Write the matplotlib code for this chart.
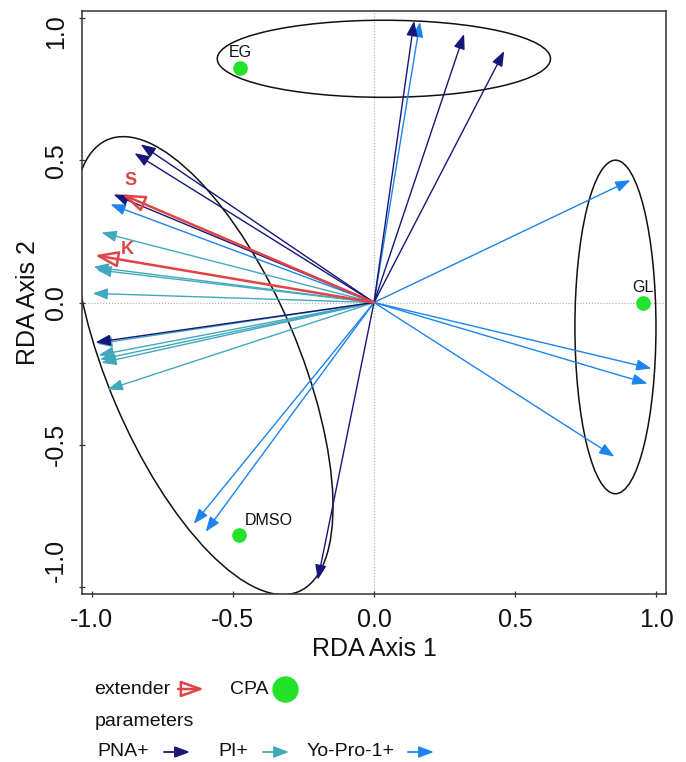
import numpy as np
import matplotlib.pyplot as plt
import matplotlib.transforms as mtransforms
from matplotlib.patches import Ellipse, FancyArrowPatch

plt.rcParams['font.family'] = ['Liberation Sans', 'DejaVu Sans']

# arrow tips on (RDA axis 1, RDA axis 2)
pna_x = [0.142, 0.319, 0.461, -0.826, -0.848, -0.922, -0.986, -0.199]
pna_y = [0.990, 0.944, 0.884, 0.556, 0.525, 0.380, -0.140, -0.975]
pi_x = [-0.965, -0.993, -0.983, -0.996, -0.980, -0.975, -0.970, -0.965, -0.943]
pi_y = [0.246, 0.125, 0.115, 0.032, -0.145, -0.185, -0.200, -0.212, -0.306]
yo_x = [0.163, 0.908, 0.982, 0.968, 0.851, -0.933, -0.638, -0.596]
yo_y = [0.986, 0.430, -0.232, -0.285, -0.542, 0.345, -0.778, -0.806]

ext_names = ['S', 'K']
ext_x = [-0.892, -0.988]
ext_y = [0.380, 0.166]

cpa_names = ['EG', 'DMSO', 'GL']
cpa_x = [-0.474, -0.478, 0.952]
cpa_y = [0.824, -0.817, 0.000]

# group ellipses (EG, DMSO, GL)
ell_x = [0.035, -0.605, 0.855]
ell_y = [0.857, -0.222, -0.086]
ell_w = [1.180, 1.727, 0.287]
ell_h = [0.271, 0.676, 1.173]
ell_ang = [0.0, -66.9, 0.0]

ticks = [-1.0, -0.5, 0.0, 0.5, 1.0]
tick_labels = ['-1.0', '-0.5', '0.0', '0.5', '1.0']

c_pna = '#161678'
c_pi = '#41a8bd'
c_yo = '#1c84ec'
c_ext = '#e04444'
c_cpa = '#22e32a'

W, H = 686, 762
fig = plt.figure(figsize=(W / 100, H / 100), dpi=100)
ax = fig.add_axes([82 / W, 1 - 594 / H, 584 / W, 583 / H])

ax.axhline(0, color='#aaaaaa', lw=0.8, ls=':', zorder=0)
ax.axvline(0, color='#aaaaaa', lw=0.8, ls=':', zorder=0)

for i in range(len(ell_x)):
    ax.add_patch(Ellipse((ell_x[i], ell_y[i]), ell_w[i], ell_h[i], angle=ell_ang[i],
                         fill=False, ec='#111111', lw=1.1))

head = '-|>,head_length=0.45,head_width=0.17'

def arrows(xs, ys, col):
    for x, y in zip(xs, ys):
        ax.annotate('', xy=(x, y), xytext=(0, 0),
                    arrowprops=dict(arrowstyle=head, color=col, lw=1.0,
                                    mutation_scale=20, shrinkA=0, shrinkB=0))

arrows(pi_x, pi_y, c_pi)
arrows(yo_x, yo_y, c_yo)
arrows(pna_x, pna_y, c_pna)

ext_off = [(6, 10), (23, 4)]
for i in range(len(ext_x)):
    ax.annotate('', xy=(ext_x[i], ext_y[i]), xytext=(0, 0),
                arrowprops=dict(arrowstyle='-|>,head_length=0.7,head_width=0.25',
                                ec=c_ext, fc='none', lw=1.8,
                                mutation_scale=20, shrinkA=0, shrinkB=0))
    ax.annotate(ext_names[i], (ext_x[i], ext_y[i]), xytext=ext_off[i],
                textcoords='offset points', color=c_ext, fontsize=13,
                fontweight='bold', ha='center', va='center')

ax.plot(cpa_x, cpa_y, 'o', color=c_cpa, ms=9.5, zorder=5)
cpa_off = [(0, 11.5), (4, 10), (0, 11)]
cpa_ha = ['center', 'left', 'center']
for i in range(len(cpa_x)):
    ax.annotate(cpa_names[i], (cpa_x[i], cpa_y[i]), xytext=cpa_off[i],
                textcoords='offset points', fontsize=11.5, color='#111111',
                ha=cpa_ha[i], va='center')

ax.set_xlim(-1.034, 1.034)
ax.set_ylim(-1.025, 1.025)
ax.set_xticks(ticks)
ax.set_xticklabels(tick_labels)
ax.set_yticks(ticks)
ax.set_yticklabels(tick_labels, rotation=90, va='center')
ax.tick_params(direction='inout', length=4, width=0.9, labelsize=18, pad=8,
               colors='#333333', labelcolor='#111111')
# end labels of the y axis sit inside the tick range
ylabs = ax.get_yticklabels()
shift = {0: 19, 4: -10}
for i, dy in shift.items():
    ylabs[i].set_transform(ylabs[i].get_transform() +
                           mtransforms.ScaledTranslation(0, dy / 72, fig.dpi_scale_trans))
for s in ax.spines.values():
    s.set_color('#333333')
    s.set_linewidth(1.1)
ax.set_xlabel('RDA Axis 1', fontsize=18, labelpad=4, color='#111111')
ax.set_ylabel('RDA Axis 2', fontsize=18, labelpad=3, color='#111111')

# legend below the plot
def fx(x):
    return x / W

def fy(y):
    return 1 - y / H

def leg_arrow(x0, x1, y, col, style, lw, fc=None):
    kw = dict(arrowstyle=style, lw=lw, mutation_scale=20, shrinkA=0, shrinkB=0,
              transform=fig.transFigure)
    if fc is None:
        kw['color'] = col
    else:
        kw['ec'] = col
        kw['fc'] = fc
    fig.add_artist(FancyArrowPatch((fx(x0), fy(y)), (fx(x1), fy(y)), **kw))

fs = 14
fig.text(fx(94), fy(689), 'extender', fontsize=fs, va='center', color='#111111')
leg_arrow(178, 204, 689, c_ext, '-|>,head_length=0.7,head_width=0.25', 1.8, fc='none')
fig.text(fx(230), fy(689), 'CPA', fontsize=fs, va='center', color='#111111')
fig.add_artist(plt.Line2D([fx(285)], [fy(689)], marker='o', ms=18, color=c_cpa,
                          transform=fig.transFigure))
fig.text(fx(95), fy(722), 'parameters', fontsize=fs, va='center', color='#111111')
row = 751
fig.text(fx(97), fy(row), 'PNA+', fontsize=fs, va='center', color='#111111')
leg_arrow(164, 190, row + 1, c_pna, head, 1.3)
fig.text(fx(218), fy(row), 'PI+', fontsize=fs, va='center', color='#111111')
leg_arrow(263, 289, row + 1, c_pi, head, 1.3)
fig.text(fx(307), fy(row), 'Yo-Pro-1+', fontsize=fs, va='center', color='#111111')
leg_arrow(408, 434, row + 1, c_yo, head, 1.3)

fig.savefig('out.png', dpi=100)
